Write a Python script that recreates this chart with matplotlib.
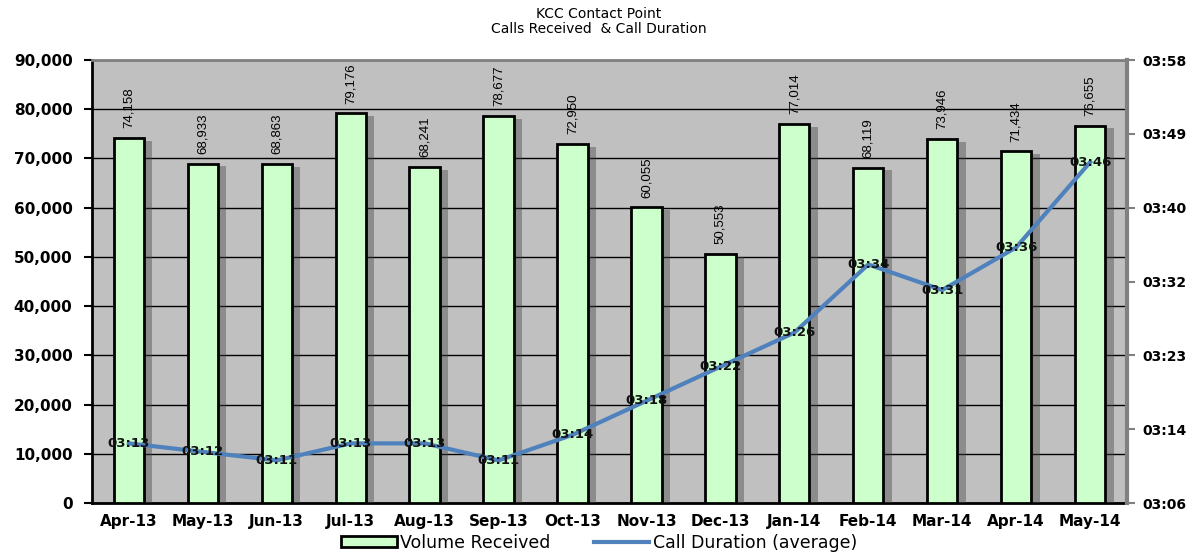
import numpy as np
import matplotlib
matplotlib.use("Agg")
from matplotlib import pyplot as plt
from matplotlib import patheffects as pe
from matplotlib.patches import Patch
from matplotlib.lines import Line2D

months = ["Apr-13", "May-13", "Jun-13", "Jul-13", "Aug-13", "Sep-13", "Oct-13",
          "Nov-13", "Dec-13", "Jan-14", "Feb-14", "Mar-14", "Apr-14", "May-14"]
volume = [74158, 68933, 68863, 79176, 68241, 78677, 72950,
          60055, 50553, 77014, 68119, 73946, 71434, 76655]
duration = ["03:13", "03:12", "03:11", "03:13", "03:13", "03:11", "03:14",
            "03:18", "03:22", "03:26", "03:34", "03:31", "03:36", "03:46"]
vol_ticks = [0, 10000, 20000, 30000, 40000, 50000, 60000, 70000, 80000, 90000]
dur_labels = ["03:06", "03:14", "03:23", "03:32", "03:40", "03:49", "03:58"]


def to_sec(s):
    m, sec = s.split(":")
    return int(m) * 60 + int(sec)


dur_sec = [to_sec(d) for d in duration]
x = np.arange(len(months))

plt.rcParams['font.family'] = ['DejaVu Sans']
fig = plt.figure(figsize=(11.91, 5.53), dpi=100)
ax = fig.add_axes([0.0772, 0.0904, 0.8691, 0.8011])
ax.set_facecolor("#C0C0C0")

ax.bar(x, volume, width=0.41, color="#CCFFCC", edgecolor="black",
       linewidth=2, zorder=3,
       path_effects=[pe.SimplePatchShadow(offset=(6, -2), shadow_rgbFace="#404040", alpha=0.4),
                     pe.Normal()])
for xi, v in zip(x, volume):
    ax.annotate(f"{v:,}", (xi, v), xytext=(0, 7), textcoords="offset points",
                rotation=90, ha="center", va="bottom", fontsize=9.5,
                family=["Liberation Sans", "DejaVu Sans"], zorder=4)

ax.set_xlim(-0.5, len(months) - 0.5)
ax.set_ylim(0, 90000)
ax.set_yticks(vol_ticks)
ax.set_yticklabels([f"{t:,}" for t in vol_ticks], fontsize=11, fontweight="bold")
ax.set_xticks(x)
ax.set_xticklabels(months, fontsize=11, fontweight="bold")
ax.tick_params(axis="x", length=0, pad=8)
ax.tick_params(axis="y", length=6, width=1.5, direction="out", pad=8)
ax.yaxis.grid(True, color="black", linewidth=1)
ax.set_axisbelow(True)
ax.spines["left"].set_color("black")
ax.spines["left"].set_linewidth(2)
ax.spines["bottom"].set_color("black")
ax.spines["bottom"].set_linewidth(2)
ax.spines["top"].set_color("#808080")
ax.spines["top"].set_linewidth(2)
ax.spines["right"].set_visible(False)

ax2 = ax.twinx()
ax2.set_ylim(186, 238)
ax2.set_yticks(np.linspace(186, 238, len(dur_labels)))
ax2.set_yticklabels(dur_labels, fontsize=10, fontweight="bold")
ax2.tick_params(axis="y", length=6, width=1.5, color="#808080", pad=5)
ax2.spines["right"].set_color("#808080")
ax2.spines["right"].set_linewidth(3)
for s in ["left", "top", "bottom"]:
    ax2.spines[s].set_visible(False)

ax2.plot(x, dur_sec, color="#4F81BD", linewidth=3, zorder=5)
for xi, d, s in zip(x, duration, dur_sec):
    ax2.text(xi, s, d, ha="center", va="center", fontsize=9.5,
             fontweight="bold", color="#111111", zorder=6)

fig.text(0.503, 0.975, "KCC Contact Point", ha="center", va="center", fontsize=10)
fig.text(0.503, 0.947, "Calls Received  & Call Duration", ha="center", va="center", fontsize=10)

handles = [Patch(facecolor="#CCFFCC", edgecolor="black", linewidth=2),
           Line2D([], [], color="#4F81BD", linewidth=3)]
fig.legend(handles, ["Volume Received", "Call Duration (average)"],
           loc="center", bbox_to_anchor=(0.503, 0.018), ncol=2, frameon=False,
           fontsize=12.5, handlelength=3.2, handleheight=0.6,
           handletextpad=0.2, columnspacing=2.5)

fig.savefig("out.png", dpi=100, facecolor="white")
